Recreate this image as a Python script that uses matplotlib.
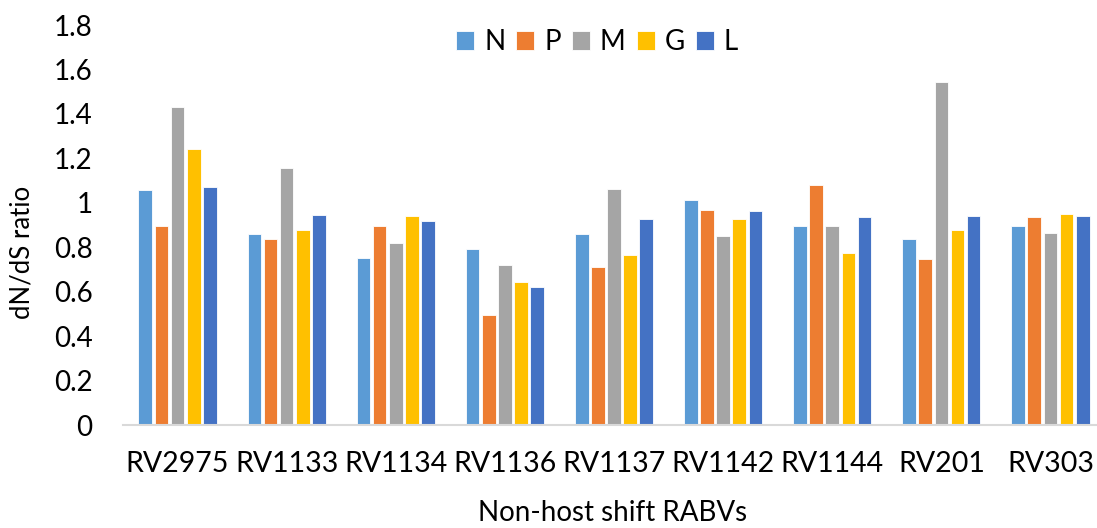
import numpy as np
import matplotlib.pyplot as plt
import matplotlib as mpl

plt.rcParams["font.family"] = ["Lato", "DejaVu Sans"]

# ============================================================
# data
# ============================================================
isolates = ["RV2975", "RV1133", "RV1134", "RV1136", "RV1137",
            "RV1142", "RV1144", "RV201", "RV303"]

n_vals = [1.058, 0.860, 0.752, 0.793, 0.859, 1.014, 0.896, 0.836, 0.896]
p_vals = [0.896, 0.838, 0.896, 0.494, 0.713, 0.968, 1.081, 0.746, 0.935]
m_vals = [1.430, 1.158, 0.820, 0.721, 1.064, 0.851, 0.896, 1.544, 0.862]
g_vals = [1.242, 0.878, 0.941, 0.644, 0.766, 0.928, 0.776, 0.878, 0.950]
l_vals = [1.072, 0.946, 0.917, 0.620, 0.929, 0.962, 0.937, 0.941, 0.941]

genes = ["N", "P", "M", "G", "L"]
colors = ["#5B9BD5", "#ED7D31", "#A5A5A5", "#FFC000", "#4472C4"]

# ============================================================
# plot
# ============================================================
W, H = 1097, 528
fig = plt.figure(figsize=(W / 100, H / 100), dpi=100)
left, right, top, bottom = 123, 1105, 25, 425
ax = fig.add_axes([left / W, 1 - bottom / H, (right - left) / W, (bottom - top) / H])

x = np.arange(len(isolates))
slot = 0.148
bar_w = 0.125
series = [n_vals, p_vals, m_vals, g_vals, l_vals]

for i, (vals, name, c) in enumerate(zip(series, genes, colors)):
    ax.bar(x + (i - 2) * slot, vals, width=bar_w, color=c,
           edgecolor="white", linewidth=0.6, label=name, zorder=2)

ax.set_xlim(-0.5, len(isolates) - 0.5)
ax.set_ylim(0, 1.8)
ax.set_yticks(np.arange(0, 1.81, 0.2))
ax.set_yticklabels(["0", "0.2", "0.4", "0.6", "0.8", "1", "1.2", "1.4", "1.6", "1.8"])
ax.set_xticks(x)
ax.set_xticklabels(isolates)

ax.tick_params(axis="y", length=0, pad=22, labelsize=20)
ax.tick_params(axis="x", length=0, pad=19, labelsize=20.5)

for s in ["top", "right", "left"]:
    ax.spines[s].set_visible(False)
ax.spines["bottom"].set_color("#D9D9D9")
ax.spines["bottom"].set_linewidth(1.5)

# axis titles
fig.text(22 / W, 1 - 252 / H, "dN/dS ratio", fontsize=18.5, rotation=90,
         ha="center", va="center")
fig.text(613 / W, 1 - 513 / H, "Non-host shift RABVs", fontsize=20,
         ha="center", va="center")

leg = ax.legend(loc="center", bbox_to_anchor=((597 - left) / (right - left), 1 - (42 - top) / (bottom - top)),
                ncol=5, frameon=False, fontsize=20, handlelength=0.65, handleheight=0.65,
                handletextpad=0.35, columnspacing=0.4)

fig.savefig("out.png", dpi=100)
